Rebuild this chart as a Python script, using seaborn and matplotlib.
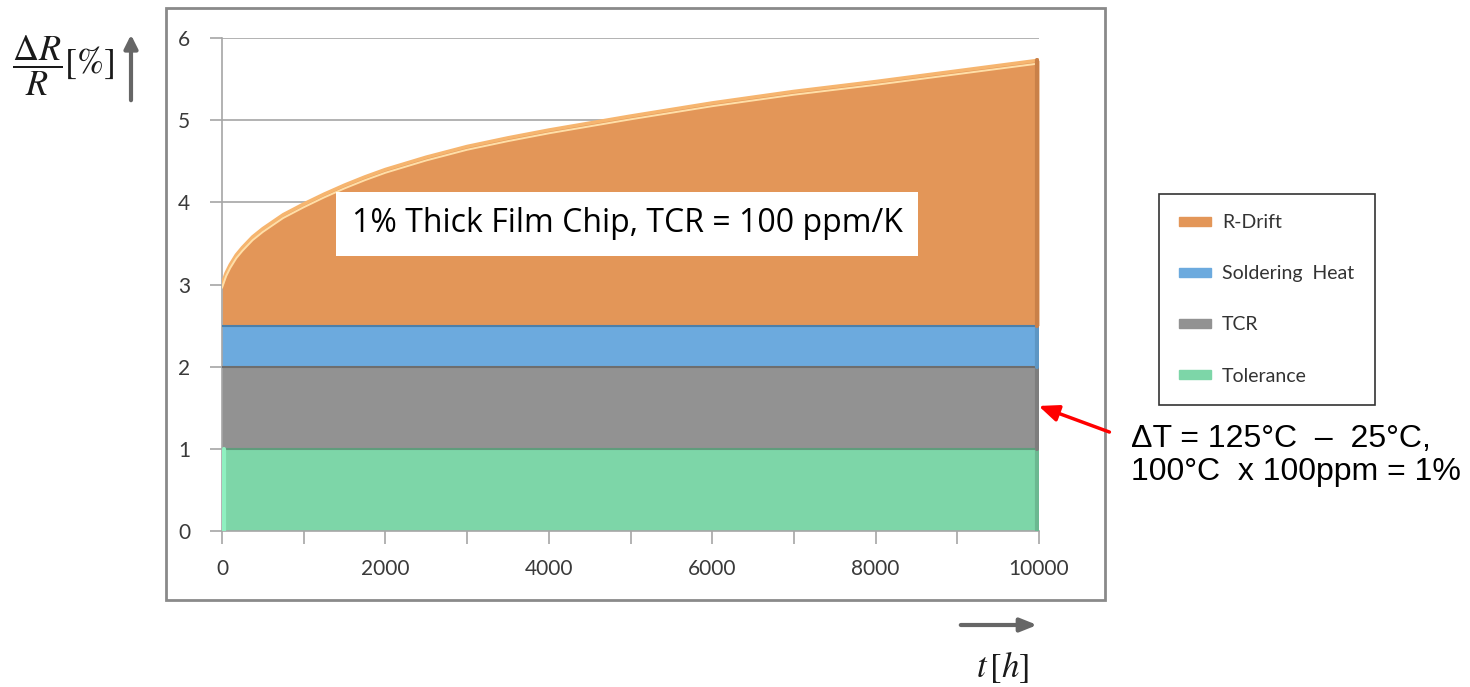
import numpy as np
import pandas as pd
import matplotlib
matplotlib.use("Agg")
import matplotlib.pyplot as plt
import seaborn as sns
from matplotlib.patches import Patch, Rectangle, FancyArrowPatch

# ---------------- data ----------------
hours = [0, 50, 100, 175, 250, 375, 500, 750, 1000, 1250, 1500, 1750, 2000, 2500, 3000,
         3500, 4000, 5000, 6000, 7000, 8000, 9000, 10000]
tolerance = [1.0] * len(hours)
tcr = [1.0] * len(hours)
soldering_heat = [0.5] * len(hours)
r_drift = [0.50, 0.64, 0.74, 0.86, 0.95, 1.08, 1.18, 1.35, 1.48, 1.60, 1.71, 1.81, 1.90,
           2.05, 2.18, 2.285, 2.38, 2.55, 2.71, 2.85, 2.97, 3.10, 3.23]
series_names = ["Tolerance", "TCR", "Soldering  Heat", "R-Drift"]
series_colors = ["#7DD6A8", "#929292", "#6CAADE", "#E39658"]
x_ticks = [0, 2000, 4000, 6000, 8000, 10000]
y_ticks = [0, 1, 2, 3, 4, 5, 6]

# ---------------- style ----------------
sns.set_theme(style="white")
plt.rcParams["font.family"] = ["Lato", "DejaVu Sans"]
plt.rcParams["mathtext.fontset"] = "stix"

W, H = 1470, 687
fig = plt.figure(figsize=(W / 100, H / 100), dpi=100)
fx = lambda x: x / W
fy = lambda y: 1 - y / H

ax = fig.add_axes([fx(222), fy(531), fx(1039) - fx(222), fy(38) - fy(531)])

df = pd.DataFrame({"t": hours, "Tolerance": tolerance, "TCR": tcr,
                   "Soldering  Heat": soldering_heat, "R-Drift": r_drift})
stack = df[series_names].cumsum(axis=1)

for yv in y_ticks[1:]:
    ax.axhline(yv, color="#a6a6a6", lw=1.2, zorder=0)

ax.stackplot(df["t"], *[df[n] for n in series_names], colors=series_colors,
             zorder=2, linewidth=0)

dark_edges = ["#5f9c7c", "#6e6e6e", "#4d7fa8"]
for name, col in zip(series_names[:3], dark_edges):
    sns.lineplot(x=df["t"], y=stack[name], ax=ax, color=col, lw=1.5, zorder=3)
sns.lineplot(x=df["t"], y=stack["R-Drift"], ax=ax, color="#F6B56F", lw=2.5, zorder=3)
sns.lineplot(x=df["t"], y=stack["R-Drift"] - 0.04, ax=ax, color="#FFDFA8", lw=1.4, zorder=3)
for lower, upper, col in [(None, "Tolerance", "#6bb890"), ("Tolerance", "TCR", "#7d7d7d"),
                          ("TCR", "Soldering  Heat", "#5d96c4"), ("Soldering  Heat", "R-Drift", "#c98048")]:
    lo = 0 if lower is None else stack[lower].iloc[-1]
    ax.plot([hours[-1] - 25, hours[-1] - 25], [lo, stack[upper].iloc[-1]], color=col, lw=3, zorder=3)
ax.plot([hours[0] + 20, hours[0] + 20], [0, 1], color="#8ff0c0", lw=3, zorder=3)

ax.set_xlim(0, 10000)
ax.set_ylim(0, 6)
ax.set_xticks(x_ticks)
ax.set_xticks([1000, 3000, 5000, 7000, 9000], minor=True)
ax.set_yticks(y_ticks)
ax.set_xticklabels([str(v) for v in x_ticks])
ax.set_yticklabels([str(v) for v in y_ticks])
ax.tick_params(axis="both", which="both", direction="out", color="#a6a6a6",
               width=1.2, length=9, labelsize=15, labelcolor="#3a3a3a")
ax.tick_params(axis="x", which="both", pad=11, bottom=True)
ax.tick_params(axis="y", pad=14, left=True)
for s in ["top", "right"]:
    ax.spines[s].set_visible(False)
for s in ["left", "bottom"]:
    ax.spines[s].set_color("#a6a6a6")
    ax.spines[s].set_linewidth(1.2)
ax.set_xlabel("")
ax.set_ylabel("")
ax.patch.set_alpha(0)

fig.patches.append(Rectangle((fx(166), fy(600)), fx(1105) - fx(166), fy(8) - fy(600),
                             transform=fig.transFigure, fill=False,
                             edgecolor="#8a8a8a", lw=2, zorder=0))

fig.text(fx(627), fy(224), "1% Thick Film Chip, TCR = 100 ppm/K", ha="center", va="center",
         fontsize=23, color="black", family=["Open Sans", "DejaVu Sans"],
         bbox=dict(boxstyle="square,pad=0.5", facecolor="white", edgecolor="none"))

handles = [Patch(facecolor=c, edgecolor=c) for c in series_colors[::-1]]
leg = fig.legend(handles, series_names[::-1], loc="upper left",
                 bbox_to_anchor=(fx(1159), fy(194)), frameon=True, fancybox=False,
                 fontsize=14, handlelength=1.6, handleheight=0.4, handletextpad=0.6,
                 labelspacing=1.75, borderpad=1.05, borderaxespad=0)
leg.get_frame().set_edgecolor("black")
leg.get_frame().set_linewidth(1.2)
for t in leg.get_texts():
    t.set_color("#333333")

fig.text(fx(12), fy(66), r"$\dfrac{\Delta R}{R}\left[\%\right]$", ha="left", va="center",
         fontsize=26, color="#1a1a1a")
fig.add_artist(FancyArrowPatch((fx(131), fy(103)), (fx(131), fy(32)),
               transform=fig.transFigure, arrowstyle="-|>,head_length=8,head_width=4",
               color="#666666", lw=3, mutation_scale=1))

fig.add_artist(FancyArrowPatch((fx(958), fy(625)), (fx(1040), fy(625)),
               transform=fig.transFigure, arrowstyle="-|>,head_length=10,head_width=4",
               color="#666666", lw=3, mutation_scale=1))
fig.text(fx(1003), fy(667), r"$t\,\left[h\right]$", ha="center", va="center",
         fontsize=25, color="#1a1a1a")

fig.add_artist(FancyArrowPatch((fx(1112), fy(433)), (fx(1036), fy(405)),
               transform=fig.transFigure, arrowstyle="-|>,head_length=12,head_width=5",
               color="#ff0000", lw=2.5, mutation_scale=1))
fig.text(fx(1131), fy(424), "\u0394T = 125\u00b0C  \u2013  25\u00b0C,\n100\u00b0C  x 100ppm = 1%",
         ha="left", va="top", fontsize=23, linespacing=1.15, color="black",
         family=["Liberation Sans", "DejaVu Sans"])

fig.savefig("out.png", dpi=100)
